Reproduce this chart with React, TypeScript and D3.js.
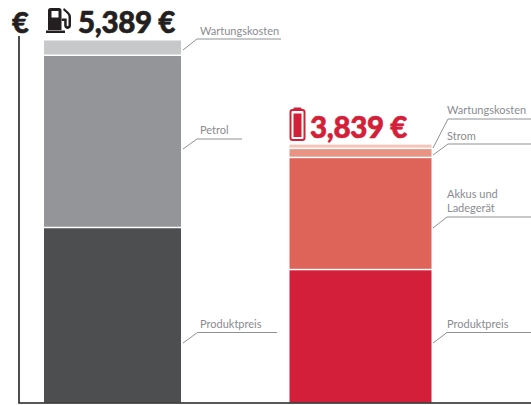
import React from "react";
import * as d3 from "d3";

const barNames = ["Petrol car", "Electric car"];
const barTotals = ["5,389 €", "3,839 €"];
const petrolLabels = ["Produktpreis", "Petrol", "Wartungskosten"];
const petrolValues = [2594, 2564, 231];
const petrolColors = ["#4d4e50", "#939598", "#c7c8ca"];
const electricLabels = ["Produktpreis", "Akkus und\nLadegerät", "Strom", "Wartungskosten"];
const electricValues = [1968, 1669, 135, 67];
const electricColors = ["#d31f39", "#de6459", "#e89485", "#f4c5b8"];

const FONT = "Lato, 'Noto Sans', sans-serif";
const y = d3.scaleLinear().domain([0, 5389]).range([402.5, 40.5]);
const x = d3.scalePoint<string>().domain(barNames).range([44, 289.5]);
const barWidth = d3.scaleOrdinal<string, number>().domain(barNames).range([137, 142]);

function stack(values: number[]) {
  let sum = 0;
  return values.map((v) => {
    const s = { y0: sum, y1: sum + v };
    sum += v;
    return s;
  });
}

function Leader({ x0, y0, x1, y1, x2 }: any) {
  return <path d={`M${x0},${y0}L${x1},${y1}H${x2}`} fill="none" stroke="#8f9194" strokeWidth={1} />;
}
function Label({ x: lx, y: ly, text }: any) {
  const lines = text.split("\n");
  return (
    <text x={lx} y={ly} fontSize={11} fill="#8a8c8f" fontFamily={FONT}>
      {lines.map((l: string, i: number) => (
        <tspan key={i} x={lx} dy={i === 0 ? 0 : 14}>{l}</tspan>
      ))}
    </text>
  );
}

export default function App() {
  const a = x(barNames[0])!;
  const b = x(barNames[1])!;
  const wa = barWidth(barNames[0]);
  const wb = barWidth(barNames[1]);
  const sa = stack(petrolValues);
  const sb = stack(electricValues);
  const bottom = y(0);
  return (
    <svg width={531} height={405} style={{ position: "absolute", left: 0, top: 0, display: "block" }}>
      <rect width={531} height={405} fill="#fff" />
      {sa.map((s, i) => (
        <rect key={i} x={a} width={wa} y={y(s.y1)} height={y(s.y0) - y(s.y1) - (i === 0 ? 0 : 1.5)} fill={petrolColors[i]} />
      ))}
      {sb.map((s, i) => (
        <rect key={i} x={b} width={wb} y={y(s.y1)} height={y(s.y0) - y(s.y1) - (i === 0 ? 0 : 1.5)} fill={electricColors[i]} />
      ))}
      <path d={`M19,36V${bottom + 0.5}H531`} fill="none" stroke="#222" strokeWidth={1.6} />
      <text x={12} y={33} fontSize={29} fontWeight={900} stroke="#231f20" strokeWidth={0.6} fill="#231f20" fontFamily={FONT}>€</text>

      {/* fuel pump */}
      <g fill="#231f20">
        <path d="M48,10.5a2.5,2.5 0 0 1 2.5,-2.5h8.5a2.5,2.5 0 0 1 2.5,2.5v19.5h-13.5zM51.5,11v6.5h7v-6.5z" fillRule="evenodd" />
        <rect x={46} y={30.5} width={19} height={2.5} />
        <path d="M64,8l4.5,4c1.5,1.5 2.5,3 2.5,5v8.5c0,4.5 -6.8,4.5 -6.8,0v-4.5h-2.5v-2.5h5v6.5c0,1.6 1.8,1.6 1.8,0v-8c0,-1.5 -0.6,-2.7 -1.6,-3.6l-3.8,-3.5z" />
      </g>
      <text x={78} y={33} fontSize={29.5} fontWeight={900} letterSpacing={-0.35} stroke="#231f20" strokeWidth={0.6} fill="#231f20" fontFamily={FONT}>{barTotals[0]}</text>

      {/* battery */}
      <g>
        <rect x={290.5} y={110} width={14} height={30} rx={2} fill="none" stroke="#d31f39" strokeWidth={2} />
        <rect x={293.5} y={107.5} width={8} height={3} rx={1} fill="#d31f39" />
        <rect x={293.5} y={113.5} width={8} height={23.5} fill="#d31f39" />
      </g>
      <text x={310} y={138} fontSize={29.5} fontWeight={900} letterSpacing={-0.35} stroke="#d31f39" strokeWidth={0.6} fill="#d31f39" fontFamily={FONT}>{barTotals[1]}</text>

      <Leader x0={183} y0={50} x1={197} y1={39} x2={281} />
      <Label x={200} y={35} text={petrolLabels[2]} />
      <Leader x0={183} y0={149} x1={197} y1={139} x2={242} />
      <Label x={200} y={134} text={petrolLabels[1]} />
      <Leader x0={183} y0={343} x1={197.5} y1={332.5} x2={277} />
      <Label x={200} y={328} text={petrolLabels[0]} />

      <Leader x0={433} y0={148} x1={448} y1={119} x2={531} />
      <Label x={447} y={114} text={electricLabels[3]} />
      <Leader x0={433} y0={155} x1={448} y1={144} x2={531} />
      <Label x={447} y={140} text={electricLabels[2]} />
      <Leader x0={433} y0={228} x1={447} y1={217} x2={531} />
      <Label x={447} y={198} text={electricLabels[1]} />
      <Leader x0={433} y0={343} x1={447} y1={332.5} x2={531} />
      <Label x={447} y={328} text={electricLabels[0]} />
    </svg>
  );
}
